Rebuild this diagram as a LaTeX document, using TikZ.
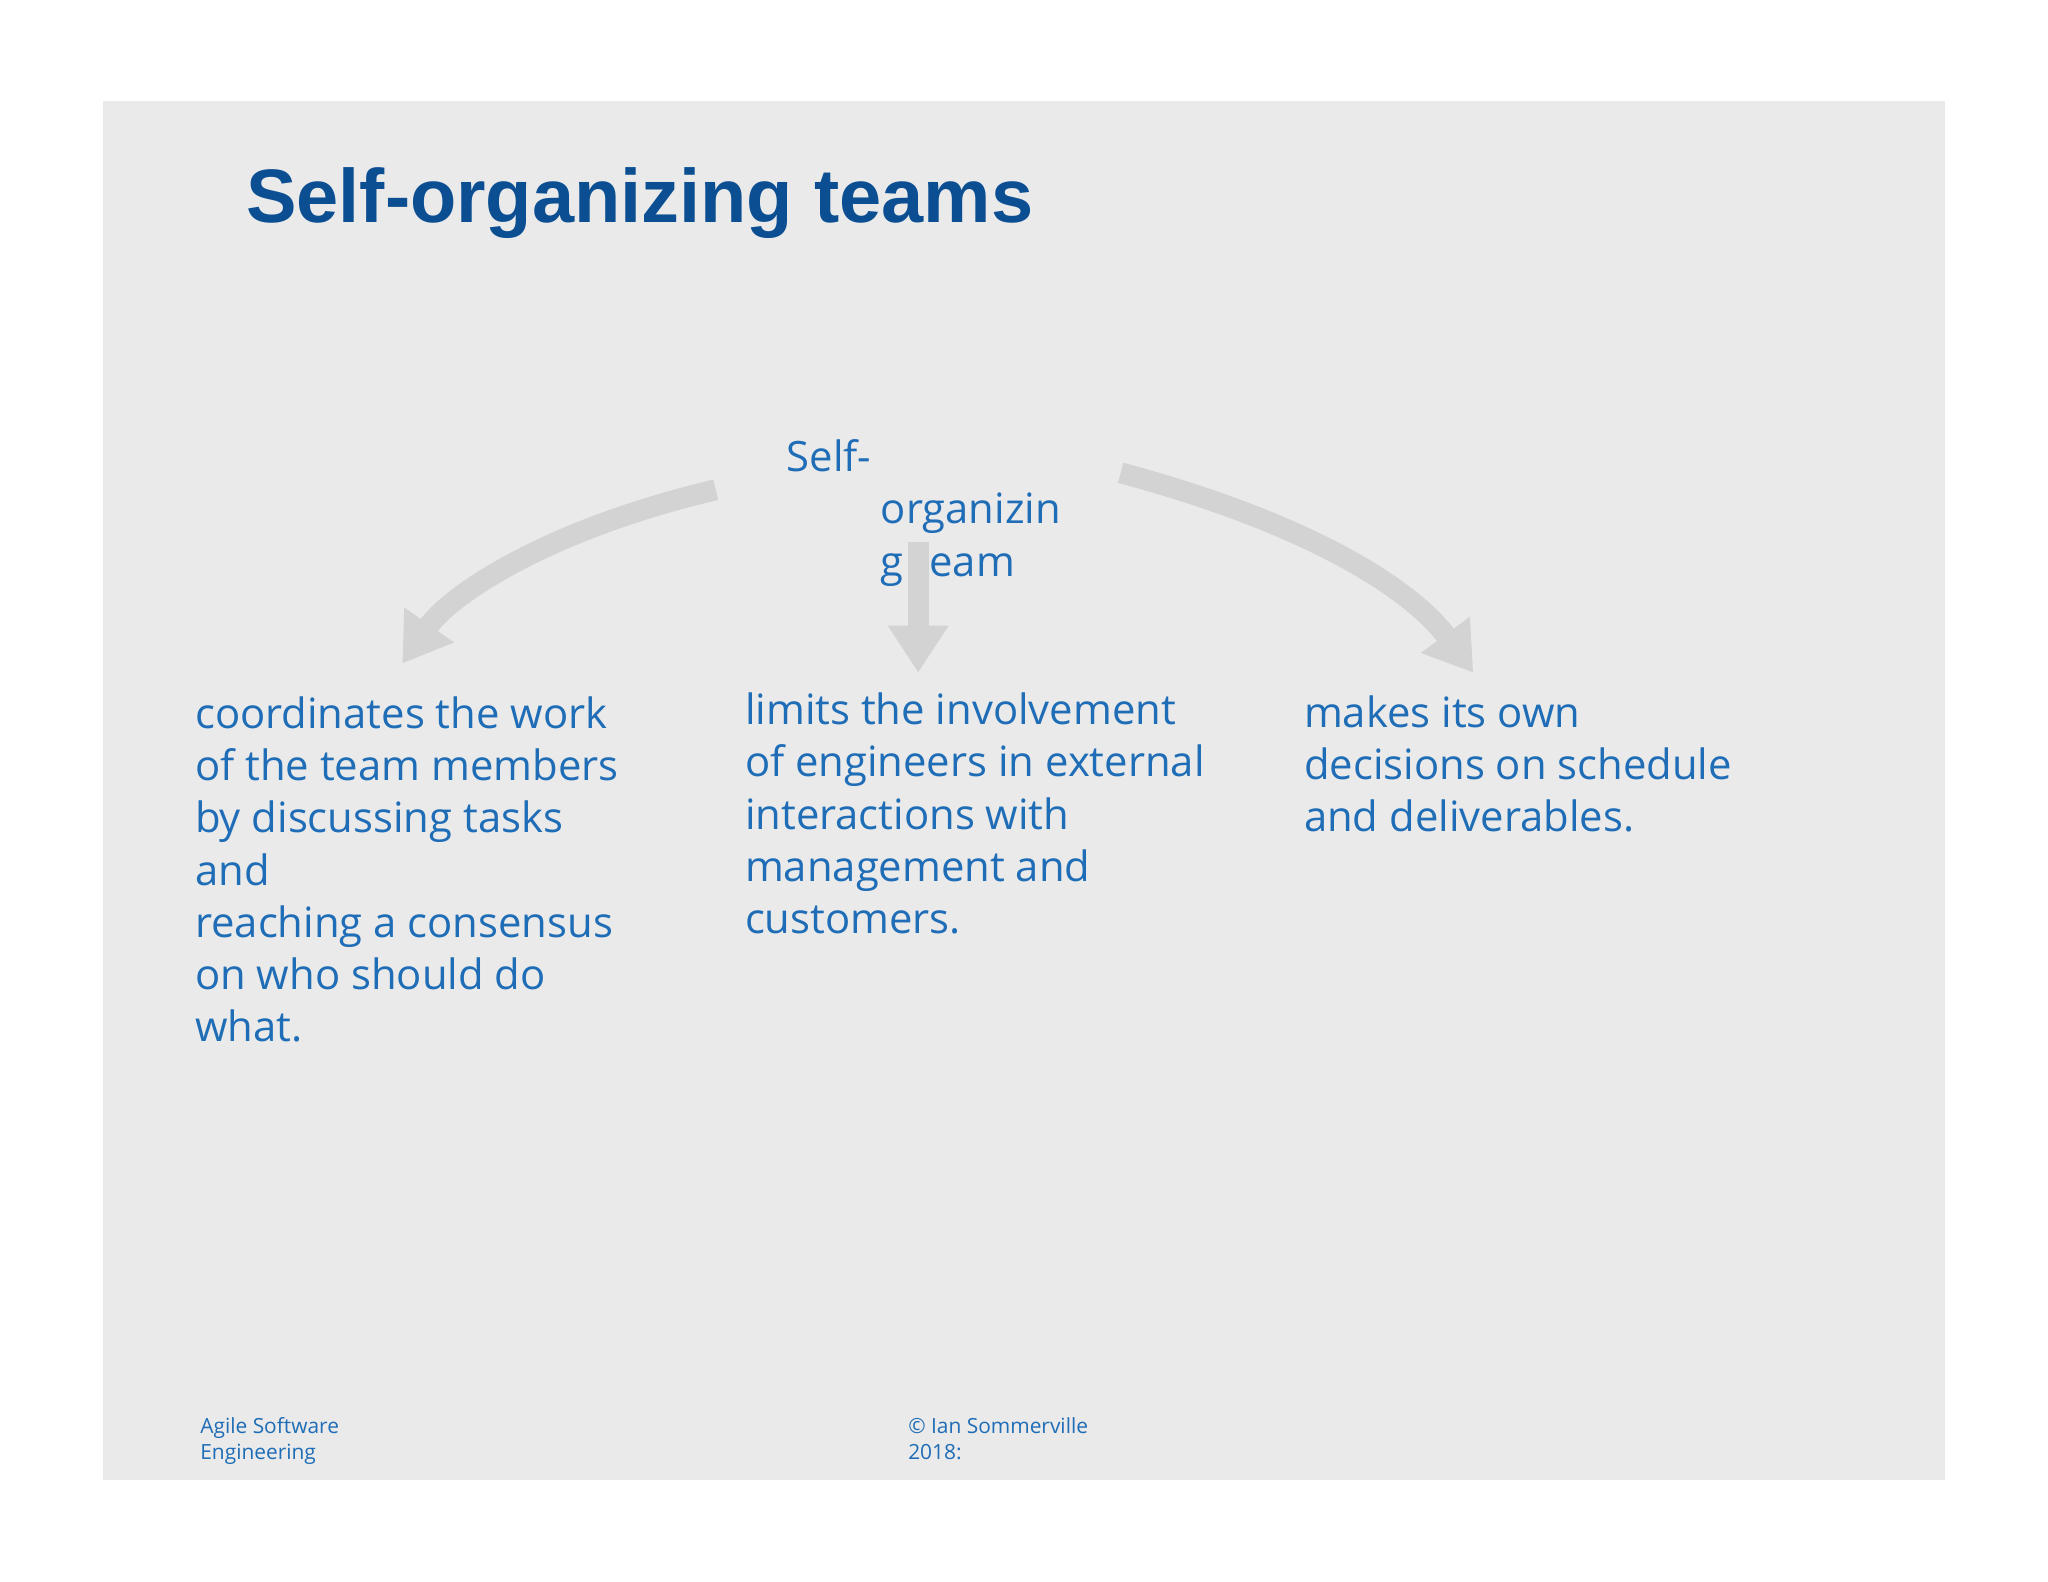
\documentclass[tikz,border=0pt]{standalone}
\usepackage{fontspec}
\setmainfont{Open Sans}
\newfontfamily\titlefont{Liberation Sans}
\usetikzlibrary{arrows.meta}
\definecolor{bg}{HTML}{EAEAEA}
\definecolor{txt}{HTML}{1E6DB6}
\definecolor{ttl}{HTML}{0B4E92}
\definecolor{arr}{HTML}{D3D3D3}
\tikzset{x=0.5pt,y=-0.5pt,
 body/.style={anchor=north west,align=left,text=txt,font=\fontsize{16}{20}\selectfont,inner sep=0pt},
 foot/.style={anchor=north west,align=left,text=txt,font=\fontsize{8}{10}\selectfont,inner sep=0pt},
 bigarrow/.style={draw=arr,line width=8pt,-{Triangle[length=18pt,width=22pt]}}}
\begin{document}
\begin{tikzpicture}
\useasboundingbox (0,0) rectangle (1568,1211);
\fill[bg] (79,77) rectangle (1489,1133);
\node[anchor=base west,inner sep=0pt,text=ttl,font=\titlefont\bfseries\fontsize{29}{34}\selectfont] (title) at (188,170) {Self-organizing teams};
\node[anchor=base west,inner sep=0pt,text=txt,font=\fontsize{16}{20}\selectfont] (c1) at (602,361) {Self-};
\node[anchor=base west,inner sep=0pt,text=txt,font=\fontsize{16}{20}\selectfont] (c2) at (674,401) {organizin};
\node[anchor=base west,inner sep=0pt,text=txt,font=\fontsize{16}{20}\selectfont] (c3) at (674,441) {g team};
\coordinate (ls) at (548,375); \coordinate (le) at (308,508);
\coordinate (ms) at (703,415); \coordinate (me) at (703,515);
\coordinate (rs) at (858,362); \coordinate (re) at (1128,515);
\draw[bigarrow] (ls) .. controls (420,405) and (345,455) .. (le);
\draw[bigarrow] (ms) -- (me);
\draw[bigarrow] (rs) .. controls (1000,400) and (1080,450) .. (re);
\node[body] (t1) at (149,533) {coordinates the work\\of the team members\\by discussing tasks\\and\\reaching a consensus\\on who should do\\what.};
\node[body] (t2) at (570,530) {limits the involvement\\of engineers in external\\interactions with\\management and\\customers.};
\node[body] (t3) at (998,532) {makes its own\\decisions on schedule\\and deliverables.};
\node[foot] (f1) at (153,1085) {Agile Software\\Engineering};
\node[foot] (f2) at (695,1085) {© Ian Sommerville\\2018:};
\end{tikzpicture}
\end{document}
